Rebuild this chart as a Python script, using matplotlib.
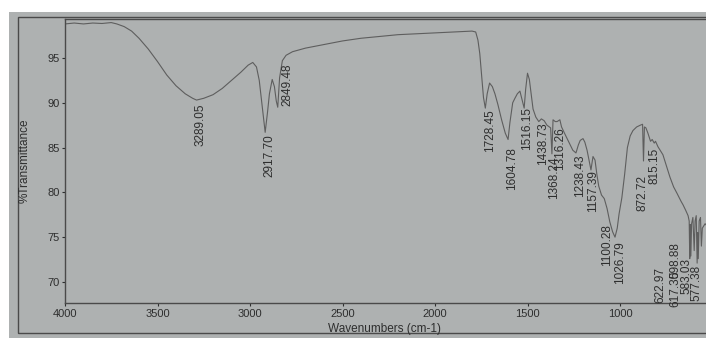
import matplotlib.pyplot as plt
from matplotlib.patches import Rectangle

# FTIR spectrum, read point by point (wavenumber in cm-1, %T)
wavenumbers = [4000, 3950, 3900, 3850, 3800, 3750, 3720, 3680, 3640, 3600,
               3550, 3500, 3450, 3400, 3350, 3310, 3289, 3250, 3200, 3150,
               3100, 3050, 3010, 2985, 2965, 2950, 2935, 2918, 2905, 2895,
               2880, 2868, 2858, 2850, 2840, 2825, 2805, 2770, 2700, 2600,
               2500, 2400, 2300, 2200, 2100, 2000, 1900, 1800, 1780, 1768,
               1758, 1748, 1738, 1728, 1718, 1705, 1690, 1676, 1660, 1640,
               1620, 1605, 1595, 1580, 1568, 1555, 1541, 1530, 1518, 1510,
               1500, 1490, 1481, 1470, 1455, 1439, 1425, 1410, 1395, 1375,
               1368, 1362, 1350, 1340, 1325, 1316, 1300, 1281, 1255, 1238,
               1225, 1215, 1200, 1190, 1178, 1165, 1157, 1146, 1135, 1125,
               1115, 1100, 1085, 1070, 1055, 1040, 1027, 1015, 1005, 990,
               975, 960, 945, 930, 910, 890, 878, 873, 868, 860,
               849, 835, 826, 815, 808, 795, 768, 750, 730, 710,
               692, 670, 659, 645, 632, 626, 623, 620, 617, 613,
               606, 599, 594, 588, 583, 580, 577, 572, 565, 560,
               555, 540, 520]
transmittance = [98.8, 98.9, 98.8, 98.9, 98.85, 98.95, 98.8, 98.5, 98.0, 97.2,
                 96.0, 94.6, 93.1, 91.9, 91.0, 90.5, 90.3, 90.5, 90.9, 91.6,
                 92.5, 93.4, 94.2, 94.5, 94.0, 92.5, 89.8, 86.7, 89.0, 91.0,
                 92.6, 91.8, 90.2, 89.5, 92.8, 94.7, 95.3, 95.7, 96.1, 96.5,
                 96.9, 97.2, 97.4, 97.6, 97.7, 97.8, 97.9, 98.0, 97.9, 97.0,
                 95.5, 93.0, 90.6, 89.4, 91.0, 92.2, 91.8, 91.0, 89.8, 88.1,
                 86.6, 85.9, 87.8, 90.0, 90.5, 91.0, 91.3, 90.4, 89.4, 91.5,
                 93.3, 92.6, 91.1, 89.3, 88.4, 87.9, 88.2, 88.0, 87.5, 87.2,
                 84.3, 88.1, 87.9, 87.9, 88.1, 87.3, 86.6, 85.8, 84.7, 84.4,
                 85.3, 85.8, 86.0, 85.6, 84.7, 83.3, 82.5, 84.0, 83.6, 82.0,
                 80.7, 79.7, 79.3, 78.2, 76.7, 75.6, 75.0, 76.0, 77.6, 79.4,
                 82.0, 85.0, 86.3, 86.9, 87.3, 87.5, 87.6, 83.5, 87.3, 87.2,
                 86.6, 85.7, 85.9, 85.5, 85.7, 85.1, 84.2, 83.0, 81.7, 80.6,
                 79.9, 79.0, 78.6, 78.0, 77.4, 76.8, 72.6, 76.4, 72.9, 76.5,
                 77.2, 73.5, 76.8, 77.4, 72.1, 75.5, 72.6, 76.8, 77.2, 74.0,
                 76.0, 76.5, 76.0]

# peak labels and where each one is written (x in cm-1, top of text in %T)
peak_labels = ["3289.05", "2917.70", "2849.48", "1728.45", "1604.78",
               "1516.15", "1438.73", "1368.24", "1316.26", "1238.43",
               "1157.39", "1100.28", "1026.79", "872.72", "815.15",
               "622.97", "617.30", "598.88", "583.03", "577.38"]
label_x = [3270, 2895, 2800, 1705, 1584, 1503, 1416, 1354, 1322, 1216,
           1146, 1070, 1000, 876, 811, 780, 702, 702, 640, 586]
label_top = [89.9, 86.5, 94.4, 89.3, 85.0, 89.5, 87.8, 84.0, 87.3, 84.2,
             82.5, 76.4, 74.5, 81.9, 85.0, 71.7, 71.3, 74.5, 72.7, 71.9]

x_ticks = [4000, 3500, 3000, 2500, 2000, 1500, 1000]
y_ticks = [70, 75, 80, 85, 90, 95]

font = ['Liberation Sans', 'DejaVu Sans']
ink = '#2e2e2e'

fig = plt.figure(figsize=(7.06, 3.38), dpi=100, facecolor='white')

# paper sheet and its outer border
fig.patches.append(Rectangle((9 / 706, 0), 1, 326 / 338, transform=fig.transFigure,
                             facecolor='#aeb1b1', edgecolor='none', zorder=-10))
fig.patches.append(Rectangle((18 / 706, 5 / 338), 1, 316 / 338, transform=fig.transFigure,
                             fill=False, edgecolor='#4a4a4a', linewidth=1.0, zorder=-5))

ax = fig.add_axes([65 / 706, 35 / 338, 666 / 706, 284 / 338])
ax.set_facecolor('none')
ax.plot(wavenumbers, transmittance, color='#5e5e5e', linewidth=0.8)

ax.set_xlim(4000, 400)
ax.set_ylim(67.65, 99.35)
ax.set_xticks(x_ticks)
ax.set_yticks(y_ticks)
ax.tick_params(length=2, width=0.8, pad=2, colors=ink, labelsize=8)
for lab in ax.get_xticklabels() + ax.get_yticklabels():
    lab.set_family(font)
for sp in ax.spines.values():
    sp.set_color('#4a4a4a')
    sp.set_linewidth(1.0)

for text, x, y in zip(peak_labels, label_x, label_top):
    ax.text(x, y, text, rotation=90, ha='center', va='top', fontsize=8.5,
            family=font, color=ink)

fig.text(25 / 706, 177 / 338, "%Transmittance", rotation=90, ha='center', va='center',
         fontsize=8.5, family=font, color=ink)
fig.text(384 / 706, 9 / 338, "Wavenumbers (cm-1)", ha='center', va='center',
         fontsize=8.5, family=font, color=ink)

fig.savefig('out.png', dpi=100, facecolor=fig.get_facecolor())
